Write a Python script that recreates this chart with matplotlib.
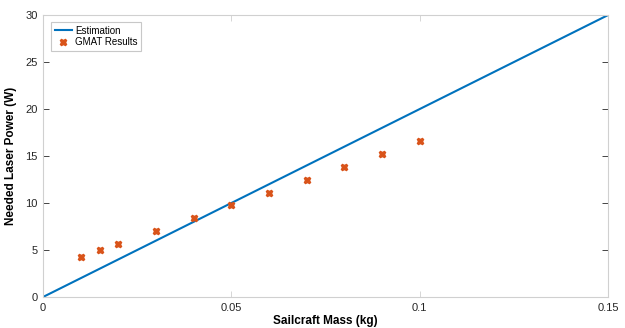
import numpy as np
import matplotlib
matplotlib.use("Agg")
import matplotlib.pyplot as plt

plt.rcParams['font.family'] = ['Liberation Sans', 'DejaVu Sans']

# estimation line
est_mass = [0, 0.15]
est_power = [0, 30]

# GMAT results
gmat_mass = [0.01, 0.015, 0.02, 0.03, 0.04, 0.05, 0.06, 0.07, 0.08, 0.09, 0.1]
gmat_power = [4.3, 5.0, 5.65, 7.0, 8.4, 9.75, 11.1, 12.45, 13.8, 15.2, 16.55]

x_ticks = [0, 0.05, 0.1, 0.15]
x_tick_labels = ['0', '0.05', '0.1', '0.15']
y_ticks = [0, 5, 10, 15, 20, 25, 30]

fig = plt.figure(figsize=(6.25, 3.28), dpi=100)
ax = fig.add_axes([0.0688, 0.0945, 0.904, 0.8595])

ax.plot(est_mass, est_power, color='#0072BD', lw=1.5, label='Estimation')
ax.plot(gmat_mass, gmat_power, ls='none', marker='X', ms=4.5, color='#D95319',
        mec='#D95319', label='GMAT Results')

ax.set_xlim(0, 0.15)
ax.set_ylim(0, 30)
ax.set_xticks(x_ticks)
ax.set_xticklabels(x_tick_labels)
ax.set_yticks(y_ticks)

for sp in ax.spines.values():
    sp.set_color('#d0d0d0')
    sp.set_linewidth(0.8)
ax.tick_params(direction='in', length=4, width=0.6,
               labelsize=8, labelcolor='#262626', top=True, right=True, pad=4)
ax.tick_params(axis='x', color='#d0d0d0')
ax.tick_params(axis='y', color='#262626')

ax.set_xlabel('Sailcraft Mass (kg)', fontsize=8.5, fontweight='bold', labelpad=1.5)
ax.set_ylabel('Needed Laser Power (W)', fontsize=8.5, fontweight='bold', labelpad=6)

leg = ax.legend(loc='upper left', fontsize=7, fancybox=False, framealpha=1,
                edgecolor='#c8c8c8', borderpad=0.4, handlelength=1.8,
                handletextpad=0.3, labelspacing=0.15, bbox_to_anchor=(0.005, 0.993))
leg.get_frame().set_linewidth(0.8)

fig.savefig('out.png', dpi=100)
